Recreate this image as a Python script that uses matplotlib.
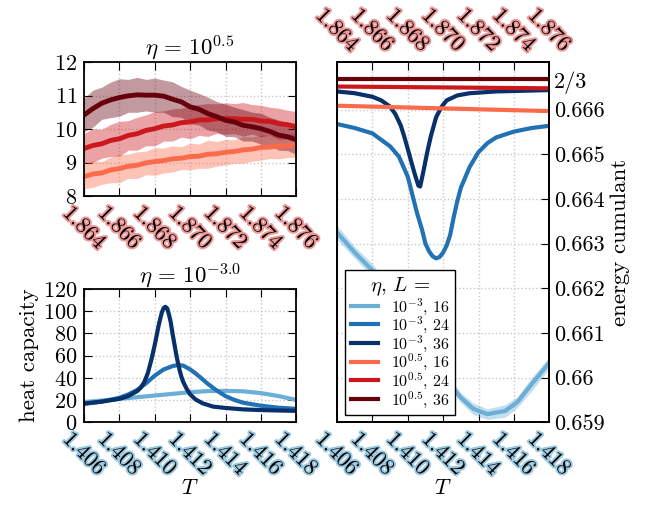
import matplotlib
matplotlib.use("Agg")
import matplotlib.pyplot as plt
import matplotlib.patheffects as pe

plt.rcParams['font.family'] = 'serif'
plt.rcParams['font.serif'] = ['cmr10', 'DejaVu Serif']
plt.rcParams['mathtext.fontset'] = 'cm'
plt.rcParams['axes.formatter.use_mathtext'] = True
plt.rcParams['font.size'] = 16
plt.rcParams['axes.linewidth'] = 1.3
plt.rcParams['xtick.direction'] = 'in'
plt.rcParams['ytick.direction'] = 'in'
plt.rcParams['xtick.major.size'] = 6
plt.rcParams['ytick.major.size'] = 6

# colours per system size
blues = ['#6baed6', '#2171b5', '#08306b']
reds = ['#fb6a4a', '#cb181d', '#67000d']
sizes = [16, 24, 36]

# ---- eta = 10^0.5, heat capacity (top left) ----
T_hi = [1.864, 1.8645, 1.865, 1.8655, 1.866, 1.8665, 1.867, 1.8675, 1.868,
        1.8685, 1.869, 1.8695, 1.870, 1.8705, 1.871, 1.8715, 1.872, 1.8725,
        1.873, 1.8735, 1.874, 1.8745, 1.875, 1.8755, 1.876]
c_hi_16 = [8.58, 8.66, 8.69, 8.78, 8.82, 8.89, 8.92, 8.99, 9.03, 9.06, 9.11,
           9.13, 9.18, 9.19, 9.25, 9.26, 9.31, 9.33, 9.38, 9.40, 9.45, 9.46,
           9.50, 9.50, 9.53]
c_hi_24 = [9.42, 9.51, 9.56, 9.66, 9.71, 9.81, 9.86, 9.96, 10.01, 10.09, 10.12,
           10.19, 10.21, 10.27, 10.27, 10.31, 10.31, 10.31, 10.29, 10.29, 10.24,
           10.23, 10.16, 10.13, 10.07]
c_hi_36 = [10.42, 10.61, 10.77, 10.87, 10.94, 10.99, 11.02, 11.01, 11.01,
           10.98, 10.89, 10.81, 10.66, 10.59, 10.46, 10.37, 10.26, 10.21,
           10.11, 10.07, 10.01, 9.93, 9.82, 9.77, 9.68]
err_hi_16 = [0.36, 0.40, 0.34, 0.38, 0.42, 0.36, 0.40, 0.35, 0.41, 0.37, 0.39,
             0.34, 0.40, 0.36, 0.42, 0.37, 0.38, 0.35, 0.40, 0.36, 0.38, 0.34,
             0.39, 0.35, 0.37]
err_hi_24 = [0.45, 0.50, 0.43, 0.48, 0.52, 0.44, 0.49, 0.46, 0.51, 0.45, 0.48,
             0.43, 0.50, 0.46, 0.49, 0.44, 0.47, 0.45, 0.50, 0.44, 0.47, 0.42,
             0.46, 0.43, 0.45]
err_hi_36 = [0.50, 0.55, 0.48, 0.53, 0.56, 0.49, 0.52, 0.47, 0.51, 0.48, 0.52,
             0.46, 0.50, 0.47, 0.49, 0.45, 0.48, 0.44, 0.47, 0.43, 0.46, 0.42,
             0.45, 0.41, 0.43]

# ---- eta = 10^-3, heat capacity (bottom left) ----
T_lo_16 = [1.406, 1.407, 1.408, 1.409, 1.410, 1.411, 1.412, 1.413, 1.414,
           1.415, 1.416, 1.417, 1.418]
c_lo_16 = [18, 19.5, 21, 22.5, 24, 25.5, 27, 28, 28.2, 27.8, 26.2, 23.5, 20]
T_lo_24 = [1.406, 1.407, 1.408, 1.4085, 1.409, 1.4095, 1.410, 1.4105, 1.411,
           1.4113, 1.4116, 1.412, 1.4123, 1.4126, 1.413, 1.4135, 1.414,
           1.4145, 1.415, 1.416, 1.417, 1.418]
c_lo_24 = [16.5, 18.5, 22, 25, 29, 35, 42, 47.5, 50.5, 51.5, 51, 47.5, 44, 40,
           34.5, 28.5, 23.5, 20, 17.5, 14.8, 13, 12]
T_lo_36 = [1.406, 1.407, 1.408, 1.4085, 1.409, 1.4092, 1.4094, 1.4096, 1.4098,
           1.4100, 1.4101, 1.4102, 1.4103, 1.4104, 1.4105, 1.4106, 1.4107,
           1.4108, 1.4109, 1.4110, 1.4111, 1.4112, 1.4113, 1.4114, 1.4115,
           1.4116, 1.4118, 1.4120, 1.4123, 1.4127, 1.4133, 1.414, 1.415,
           1.416, 1.417, 1.418]
c_lo_36 = [16.8, 18.5, 21, 23.5, 28, 31, 36, 44, 56, 70, 78, 86, 93, 99, 103,
           104, 102.5, 97, 90, 80, 71, 62, 54, 47, 41, 36.5, 30, 25, 20.5, 17,
           14, 12.8, 11.5, 10.9, 10.5, 10.2]

# ---- energy cumulant (right) ----
U_T_16 = [1.406, 1.407, 1.408, 1.409, 1.410, 1.411, 1.412, 1.413, 1.4137,
          1.4145, 1.4155, 1.4162, 1.417, 1.418]
U_lo_16 = [0.66325, 0.66280, 0.66240, 0.66190, 0.66128, 0.66065, 0.66005,
           0.65955, 0.65930, 0.65918, 0.65925, 0.65945, 0.65985, 0.66033]
U_err_16 = [0.00016, 0.00013, 0.00015, 0.00012, 0.00014, 0.00012, 0.00013,
            0.00011, 0.00013, 0.00012, 0.00014, 0.00012, 0.00015, 0.00013]
U_T_24 = [1.406, 1.407, 1.408, 1.409, 1.4095, 1.410, 1.4105, 1.4108, 1.411,
          1.4112, 1.4114, 1.4116, 1.4118, 1.412, 1.4122, 1.4124, 1.4126,
          1.4128, 1.413, 1.4135, 1.414, 1.4145, 1.415, 1.416, 1.417, 1.418]
U_lo_24 = [0.66568, 0.66559, 0.66547, 0.66518, 0.66495, 0.66450, 0.66372,
           0.66332, 0.66300, 0.66283, 0.66272, 0.66267, 0.66270, 0.66280,
           0.66296, 0.66320, 0.66360, 0.66395, 0.66425, 0.66472, 0.66505,
           0.66525, 0.66538, 0.66551, 0.66559, 0.66564]
U_T_36 = [1.406, 1.407, 1.408, 1.4085, 1.409, 1.4093, 1.4096, 1.4098, 1.4100,
          1.4102, 1.4104, 1.4106, 1.4107, 1.4109, 1.4111, 1.4113, 1.4116,
          1.4119, 1.4122, 1.4128, 1.4135, 1.415, 1.418]
U_lo_36 = [0.66641, 0.66637, 0.66629, 0.66621, 0.66607, 0.66590, 0.66565,
           0.66540, 0.66512, 0.66483, 0.66455, 0.66430, 0.66428, 0.66465,
           0.66505, 0.66540, 0.66583, 0.66606, 0.66621, 0.66632, 0.66637,
           0.66641, 0.66644]
U_T_hi = [1.864, 1.870, 1.876]
U_hi_16 = [0.66609, 0.66603, 0.66597]
U_hi_24 = [0.66652, 0.66650, 0.66648]
U_hi_36 = [0.66668, 0.66668, 0.66668]

ticks_hi = [1.864, 1.866, 1.868, 1.870, 1.872, 1.874, 1.876]
ticks_lo = [1.406, 1.408, 1.410, 1.412, 1.414, 1.416, 1.418]
u_ticks = [0.659, 0.660, 0.661, 0.662, 0.663, 0.664, 0.665, 0.666, 2 / 3]
u_labels = ['0.659', '0.66', '0.661', '0.662', '0.663', '0.664', '0.665',
            '0.666', '2/3']

glow_red = [pe.withStroke(linewidth=2.8, foreground='#ee9a9a')]
glow_blue = [pe.withStroke(linewidth=2.8, foreground='#9ecae1')]


def tick_labels(ax, ticks, glow, top=False):
    ax.set_xticks(ticks)
    ax.set_xticklabels(['%.3f' % t for t in ticks], rotation=-45)
    for tk in ax.xaxis.get_major_ticks():
        lab = tk.label2 if top else tk.label1
        lab.set_path_effects(glow)


def grid(ax):
    ax.grid(True, linestyle=':', color='#c8c8c8', linewidth=1)
    ax.set_axisbelow(True)


fig = plt.figure(figsize=(6.57, 5.08), dpi=100)

# top left
ax1 = fig.add_axes([0.128, 0.614, 0.323, 0.264])
for vals, err, col in zip([c_hi_16, c_hi_24, c_hi_36],
                          [err_hi_16, err_hi_24, err_hi_36], reds):
    lo = [v - e for v, e in zip(vals, err)]
    hi = [v + e for v, e in zip(vals, err)]
    ax1.fill_between(T_hi, lo, hi, color=col, alpha=0.4, lw=0)
    ax1.plot(T_hi, vals, color=col, lw=3.5)
ax1.set_xlim(1.864, 1.876)
ax1.set_ylim(8, 12)
ax1.set_yticks([8, 9, 10, 11, 12])
tick_labels(ax1, ticks_hi, glow_red)
ax1.tick_params(top=True, right=True, pad=5)
ax1.set_title(r'$\eta\, =\, 10^{0.5}$', fontsize=16.5, pad=5)
grid(ax1)

# bottom left
ax2 = fig.add_axes([0.128, 0.169, 0.323, 0.262])
ax2.plot(T_lo_16, c_lo_16, color=blues[0], lw=3)
ax2.plot(T_lo_24, c_lo_24, color=blues[1], lw=3)
ax2.plot(T_lo_36, c_lo_36, color=blues[2], lw=3)
ax2.set_xlim(1.406, 1.418)
ax2.set_ylim(0, 120)
ax2.set_yticks([0, 20, 40, 60, 80, 100, 120])
tick_labels(ax2, ticks_lo, glow_blue)
ax2.tick_params(top=True, right=True, pad=5)
ax2.set_title(r'$\eta\, =\, 10^{-3.0}$', fontsize=16.5, pad=5)
ax2.set_ylabel('heat capacity', fontsize=16.5, labelpad=3)
ax2.set_xlabel(r'$T$', labelpad=0)
grid(ax2)

# right: energy cumulant
ax3 = fig.add_axes([0.513, 0.169, 0.323, 0.709])
ax3.fill_between(U_T_16, [v - e for v, e in zip(U_lo_16, U_err_16)],
                 [v + e for v, e in zip(U_lo_16, U_err_16)],
                 color=blues[0], alpha=0.4, lw=0)
h = []
h += ax3.plot(U_T_16, U_lo_16, color=blues[0], lw=3, label=r'$10^{-3},\, 16$')
h += ax3.plot(U_T_24, U_lo_24, color=blues[1], lw=3, label=r'$10^{-3},\, 24$')
h += ax3.plot(U_T_36, U_lo_36, color=blues[2], lw=3, label=r'$10^{-3},\, 36$')
ax3.set_xlim(1.406, 1.418)
ax3.set_ylim(0.659, 0.66707)
tick_labels(ax3, ticks_lo, glow_blue)
ax3.yaxis.tick_right()
ax3.yaxis.set_label_position('right')
ax3.set_yticks(u_ticks)
ax3.set_yticklabels(u_labels)
ax3.tick_params(axis='x', pad=5)
ax3.set_ylabel('energy cumulant', fontsize=16.5)
ax3.set_xlabel(r'$T$', labelpad=0)
grid(ax3)

ax4 = ax3.twiny()
h += ax4.plot(U_T_hi, U_hi_16, color=reds[0], lw=3, label=r'$10^{0.5},\, 16$')
h += ax4.plot(U_T_hi, U_hi_24, color=reds[1], lw=3, label=r'$10^{0.5},\, 24$')
h += ax4.plot(U_T_hi, U_hi_36, color=reds[2], lw=3, label=r'$10^{0.5},\, 36$')
ax4.set_xlim(1.864, 1.876)
tick_labels(ax4, ticks_hi, glow_red, top=True)
ax4.tick_params(axis='x', pad=5)
ax3.set_ylim(0.659, 0.66707)

leg = ax3.legend(handles=h, title=r'$\eta,\, L\, =$', loc='lower left',
                 bbox_to_anchor=(0.038, 0.019), borderaxespad=0,
                 fancybox=False, framealpha=1, edgecolor='black',
                 fontsize=11.5, title_fontsize=15, handlelength=1.7,
                 labelspacing=-0.12, borderpad=0.35)
leg.get_frame().set_linewidth(1.0)

fig.savefig('out.png', dpi=100)
